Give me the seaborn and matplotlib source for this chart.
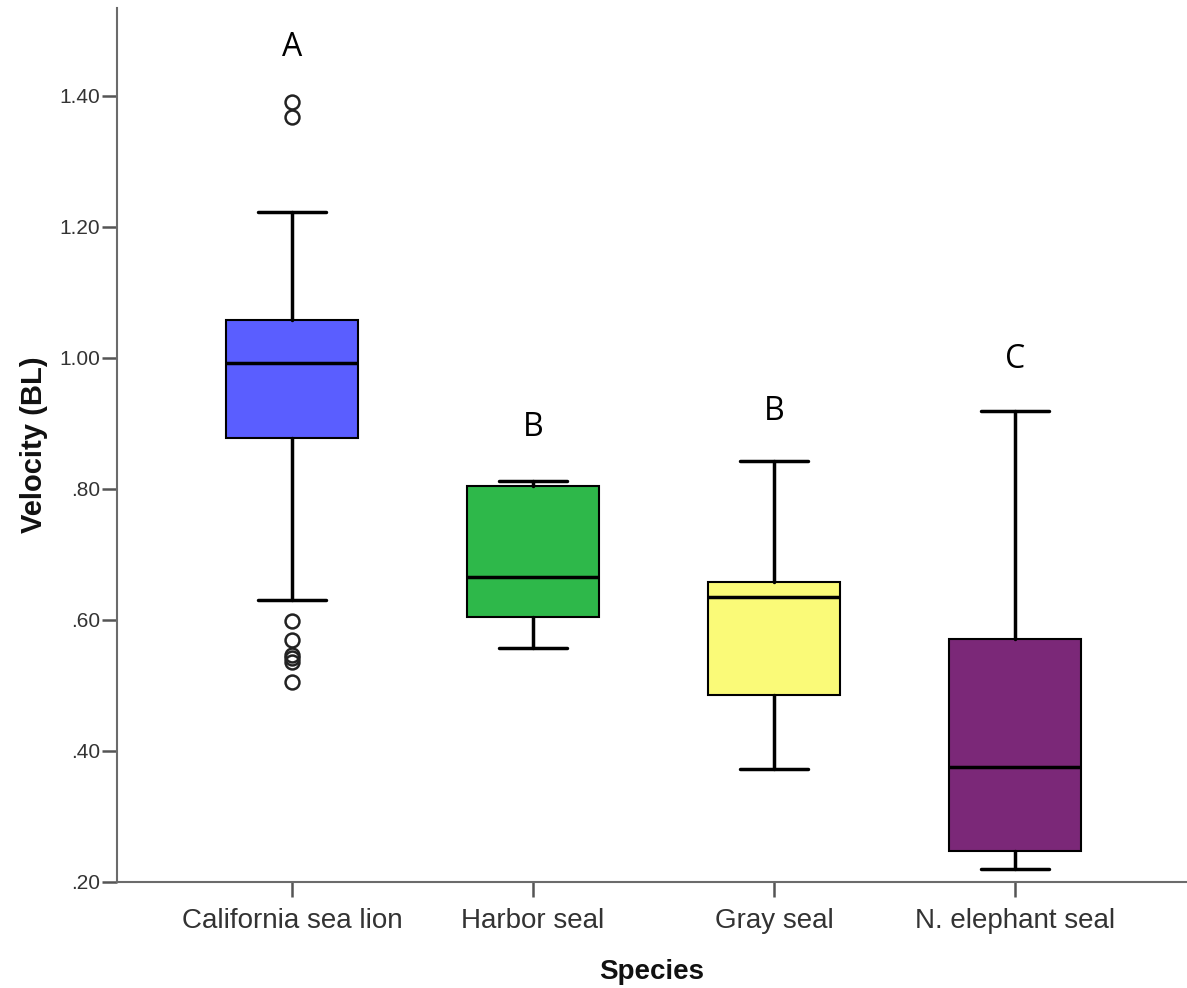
import matplotlib
matplotlib.use("Agg")
import matplotlib.pyplot as plt
import seaborn as sns

species = ["California sea lion", "Harbor seal", "Gray seal", "N. elephant seal"]
whislo = [0.630, 0.557, 0.373, 0.220]
q1 = [0.878, 0.605, 0.485, 0.247]
med = [0.992, 0.666, 0.635, 0.376]
q3 = [1.058, 0.805, 0.658, 0.571]
whishi = [1.223, 0.812, 0.843, 0.919]
fliers = [
    [1.391, 1.368, 0.598, 0.569, 0.546, 0.542, 0.536, 0.505],
    [],
    [],
    [],
]
colors = ["#5a5eff", "#2eb84a", "#fafa78", "#7b2878"]
letters = ["A", "B", "B", "C"]
letter_y = [1.473, 0.893, 0.918, 0.998]

sns.set_style("white")
plt.rcParams["font.family"] = ["Liberation Sans", "DejaVu Sans"]

fig = plt.figure(figsize=(11.87, 9.88), dpi=100)
ax = fig.add_axes([0.0986, 0.1073, 0.9014, 0.8846])

stats = []
for i, name in enumerate(species):
    stats.append(dict(label=name, whislo=whislo[i], q1=q1[i], med=med[i],
                      q3=q3[i], whishi=whishi[i], fliers=fliers[i]))

bp = ax.bxp(stats, positions=range(len(species)), widths=0.55,
            patch_artist=True, showfliers=True,
            boxprops=dict(edgecolor="black", linewidth=1.5),
            medianprops=dict(color="black", linewidth=2.5),
            whiskerprops=dict(color="black", linewidth=2.5),
            capprops=dict(color="black", linewidth=2.5),
            capwidths=0.28,
            flierprops=dict(marker="o", markerfacecolor="none",
                            markeredgecolor="#222222", markersize=10,
                            markeredgewidth=1.8))
for patch, c in zip(bp["boxes"], colors):
    patch.set_facecolor(c)

for i, t in enumerate(letters):
    ax.text(i, letter_y[i], t, ha="center", va="center", fontsize=23,
            family=["Open Sans", "DejaVu Sans"], color="black")

ax.set_xlim(-0.726, 3.714)
ax.set_ylim(0.2, 1.534)
ax.set_yticks([0.2, 0.4, 0.6, 0.8, 1.0, 1.2, 1.4])
ax.set_yticklabels([".20", ".40", ".60", ".80", "1.00", "1.20", "1.40"])
ax.set_xticks(range(len(species)))
ax.set_xticklabels(species)

sns.despine(ax=ax, top=True, right=True)
for s in ["left", "bottom"]:
    ax.spines[s].set_color("#6b6b6b")
    ax.spines[s].set_linewidth(1.5)
ax.tick_params(axis="both", direction="out", length=11, width=1.8,
               color="#555555", bottom=True, left=True)
ax.tick_params(axis="y", labelsize=15, labelcolor="#333333", pad=1)
ax.tick_params(axis="x", labelsize=20, labelcolor="#333333", pad=8)

ax.set_xlabel("Species", fontsize=20, fontweight="bold", labelpad=18,
              color="#111111")
ax.set_ylabel("Velocity (BL)", fontsize=21, fontweight="bold", labelpad=8,
              color="#111111")

fig.savefig("out.png", dpi=100)
